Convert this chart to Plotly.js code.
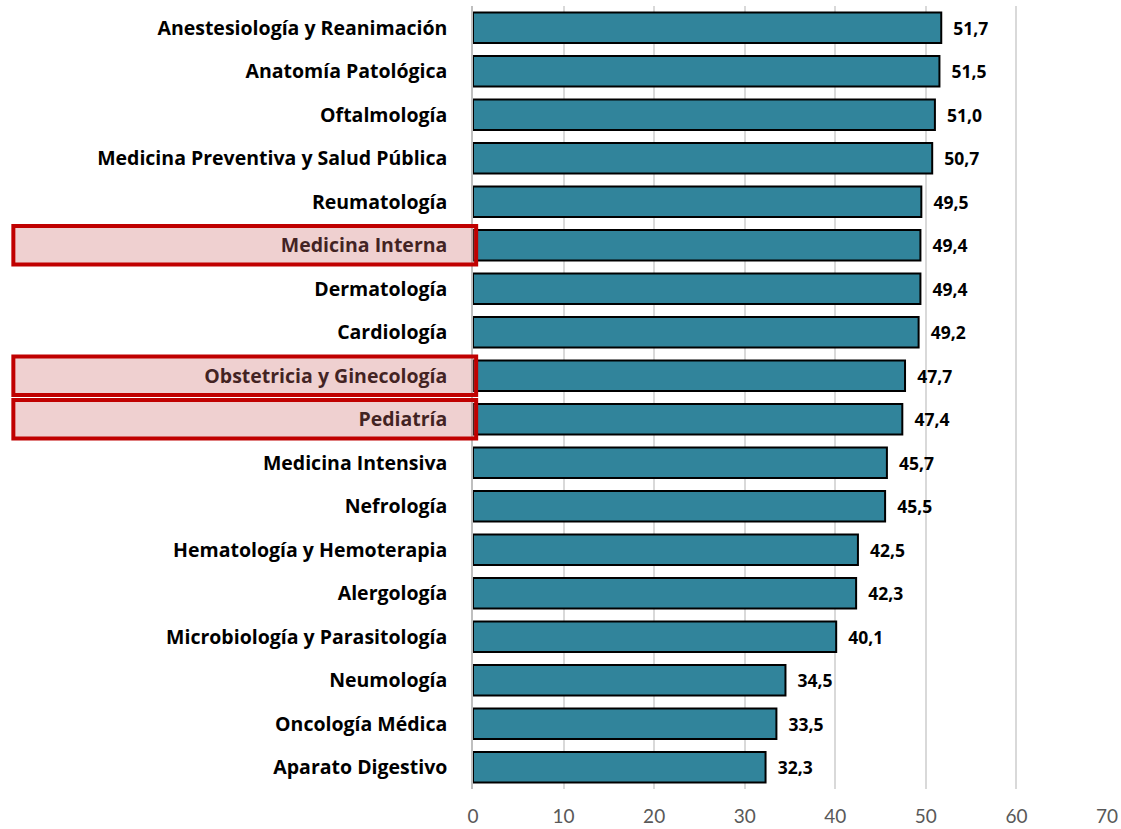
<!DOCTYPE html>
<html>
<head>
<meta charset="utf-8">
<script src="https://cdn.plot.ly/plotly-3.0.1.min.js"></script>
<style>
  body { margin: 0; background: #fff; }
  #plot { width: 1121px; height: 829px; }
</style>
</head>
<body>
<div id="plot"></div>
<script>
// especialidades, de arriba abajo
let especialidades = [
  'Anestesiología y Reanimación',
  'Anatomía Patológica',
  'Oftalmología',
  'Medicina Preventiva y Salud Pública',
  'Reumatología',
  'Medicina Interna',
  'Dermatología',
  'Cardiología',
  'Obstetricia y Ginecología',
  'Pediatría',
  'Medicina Intensiva',
  'Nefrología',
  'Hematología y Hemoterapia',
  'Alergología',
  'Microbiología y Parasitología',
  'Neumología',
  'Oncología Médica',
  'Aparato Digestivo'
];

let valores = [51.7, 51.5, 51.0, 50.7, 49.5, 49.4, 49.4, 49.2, 47.7, 47.4,
               45.7, 45.5, 42.5, 42.3, 40.1, 34.5, 33.5, 32.3];

let resaltadas = ['Medicina Interna', 'Obstetricia y Ginecología', 'Pediatría'];

let xticks = [0, 10, 20, 30, 40, 50, 60, 70];

// coma decimal, con un poco de aire delante
let etiquetas = valores.map(v => '\u00a0\u00a0' + v.toFixed(1).replace('.', ','));

let trace1 = {
  type: 'bar',
  orientation: 'h',
  x: valores,
  y: especialidades,
  text: etiquetas,
  textposition: 'outside',
  cliponaxis: false,
  textfont: {family: 'Open Sans, sans-serif', size: 17.5, color: '#000', weight: 'bold'},
  marker: {color: '#31849b', line: {color: '#000', width: 2}},
  hoverinfo: 'x+y'
};

// cajas rojas sobre las etiquetas resaltadas
let shapes = resaltadas.map(function (nombre) {
  let i = especialidades.indexOf(nombre);
  return {
    type: 'rect',
    xref: 'paper', yref: 'y',
    x0: -0.725, x1: 0.005,
    y0: i - 0.44, y1: i + 0.44,
    line: {color: '#c00000', width: 4},
    fillcolor: 'rgba(205,110,110,0.32)',
    layer: 'above'
  };
});

let layout = {
  width: 1121,
  height: 829,
  margin: {l: 473, r: 14, t: 6, b: 40},
  paper_bgcolor: '#fff',
  plot_bgcolor: '#fff',
  showlegend: false,
  bargap: 0.3,
  font: {family: 'Open Sans, sans-serif'},
  xaxis: {
    range: [0, 70],
    tickvals: xticks,
    showgrid: true,
    gridcolor: '#d9d9d9',
    gridwidth: 1.5,
    zeroline: false,
    showline: false,
    ticks: '',
    ticklabelstandoff: 14,
    tickfont: {family: 'Lato, sans-serif', size: 19, color: '#595959'},
    fixedrange: true
  },
  yaxis: {
    autorange: 'reversed',
    showline: true,
    linecolor: '#bfbfbf',
    linewidth: 1.5,
    ticks: '',
    ticklabelstandoff: 20,
    tickfont: {size: 19.5, color: '#000', weight: 'bold'},
    fixedrange: true
  },
  shapes: shapes
};

Plotly.newPlot('plot', [trace1], layout, {displayModeBar: false});
</script>
</body>
</html>
